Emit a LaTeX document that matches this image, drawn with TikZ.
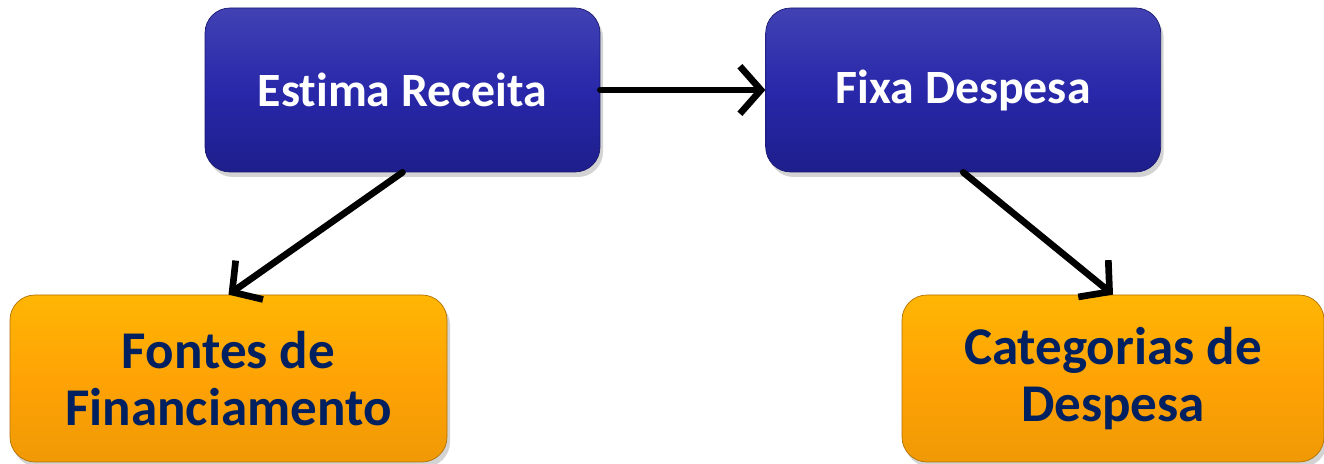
\documentclass[tikz,border=0pt]{standalone}
\usepackage{fontspec}
\setmainfont{Carlito}[Ligatures=NoCommon]
\usepackage{tikz}
\usetikzlibrary{arrows.meta, positioning, shadows}
\definecolor{budgetblue}{RGB}{40, 40, 170}
\definecolor{budgetbluedark}{RGB}{30, 30, 140}
\definecolor{budgetorange}{RGB}{255, 163, 5}
\definecolor{budgetnavy}{RGB}{0, 32, 96}

\begin{document}
\begin{tikzpicture}[
    >={Straight Barb[length=0.42cm, width=0.95cm, line width=3.8pt]},
    link/.style={->, line width=3.8pt, line cap=round},
    actionbox/.style={rectangle, rounded corners=0.5cm, draw=budgetbluedark!80!black, thin,
                  top color=budgetblue!88!white, bottom color=budgetbluedark,
                  middle color=budgetblue,
                  drop shadow={shadow xshift=0.06cm, shadow yshift=-0.1cm, opacity=0.35},
                  minimum width=7.9cm, minimum height=3.28cm, inner sep=0pt,
                  text=white, font=\bfseries\fontsize{27.2}{30}\selectfont},
    resultbox/.style={rectangle, rounded corners=0.5cm, draw=budgetorange!70!black, thin,
                  top color=budgetorange!80!yellow, bottom color=budgetorange!94!black,
                  middle color=budgetorange,
                  drop shadow={shadow xshift=0.06cm, shadow yshift=-0.1cm, opacity=0.35},
                  minimum height=3.34cm, inner sep=0pt, align=center,
                  text=budgetnavy, font=\bfseries\fontsize{30.2}{32.4}\selectfont}
]
    \useasboundingbox (0,0) rectangle (26.48,-9.28);

    \node[actionbox] (receita) at (8.05,-1.8) {Estima Receita};
    \node[actionbox, right=3.3cm of receita] (despesa) {Fixa Despesa};
    \node[resultbox, minimum width=8.74cm] (fontes) at (4.57,-7.57) {Fontes de\\Financiamento};
    \node[resultbox, minimum width=8.44cm] (categorias) at (22.26,-7.57) {Categorias de\\Despesa};

    \draw[link] (receita) -- (despesa);
    \draw[link] (receita.south) -- (fontes.north);
    \draw[link] (despesa.south) -- (categorias.north);

\end{tikzpicture}
\end{document}
